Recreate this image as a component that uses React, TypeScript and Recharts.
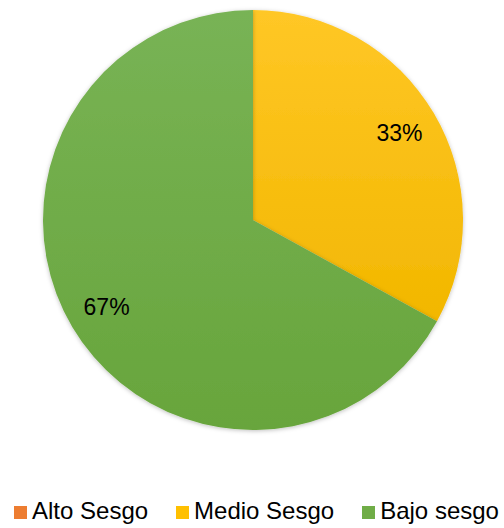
import React from "react";
import { PieChart, Pie, Cell, Legend } from "recharts";

const categories = ["Alto Sesgo", "Medio Sesgo", "Bajo sesgo"];
const shares = [0, 33, 67];
const colors = ["#ED7D31", "#FFC000", "#70AD47"];
const gradients = [
  ["#F08A45", "#E37026"],
  ["#FFC726", "#F2B700"],
  ["#78B355", "#68A53C"],
];

const data = categories.map((name, i) => ({ name, value: shares[i] }));

const RADIAN = Math.PI / 180;

const renderLabel = (props: any) => {
  const { cx, cy, midAngle, outerRadius, value } = props;
  if (!value) return null;
  const r = outerRadius * 0.81;
  const x = cx + r * Math.cos(-midAngle * RADIAN);
  const y = cy + r * Math.sin(-midAngle * RADIAN);
  return (
    <text
      x={x}
      y={y}
      fill="#000"
      textAnchor="middle"
      dominantBaseline="central"
      style={{ fontSize: 23, fontFamily: "'Liberation Sans', Arial, sans-serif" }}
    >
      {`${value}%`}
    </text>
  );
};

// legend laid out like the office-style key under the pie
const renderLegend = () => (
  <div
    style={{
      display: "flex",
      justifyContent: "flex-start",
      paddingLeft: 14,
      fontFamily: "'Liberation Sans', Arial, sans-serif",
      fontSize: 24,
      lineHeight: "26px",
      color: "#000",
    }}
  >
    {categories.map((name, i) => (
      <div
        key={name}
        style={{ display: "flex", alignItems: "center", marginRight: i < 2 ? 28 : 0 }}
      >
        <span
          style={{
            display: "inline-block",
            width: 13,
            height: 13,
            background: colors[i],
            marginRight: 5,
            marginTop: 2,
          }}
        />
        <span>{name}</span>
      </div>
    ))}
  </div>
);

export default function App() {
  return (
    <div style={{ position: "absolute", left: 0, top: 0, background: "#fff" }}>
      <PieChart width={504} height={528} margin={{ top: 0, right: 0, bottom: 0, left: 0 }}>
        <defs>
          {gradients.map((g, i) => (
            <linearGradient key={i} id={`grad${i}`} x1="0" y1="0" x2="0" y2="1">
              <stop offset="0%" stopColor={g[0]} />
              <stop offset="100%" stopColor={g[1]} />
            </linearGradient>
          ))}
          <filter id="shadow" x="-10%" y="-10%" width="120%" height="120%">
            <feDropShadow dx="0" dy="1" stdDeviation="2" floodColor="#000" floodOpacity="0.25" />
          </filter>
        </defs>
        <Pie
          data={data}
          dataKey="value"
          nameKey="name"
          cx={253}
          cy={220}
          outerRadius={210}
          startAngle={90}
          endAngle={-270}
          stroke="none"
          label={renderLabel}
          labelLine={false}
          isAnimationActive={false}
          style={{ filter: "url(#shadow)" }}
        >
          {data.map((d, i) => (
            <Cell key={d.name} fill={`url(#grad${i})`} />
          ))}
        </Pie>
        <Legend
          verticalAlign="bottom"
          align="left"
          content={renderLegend}
          wrapperStyle={{ bottom: 4, left: 0, width: 504 }}
        />
      </PieChart>
    </div>
  );
}
